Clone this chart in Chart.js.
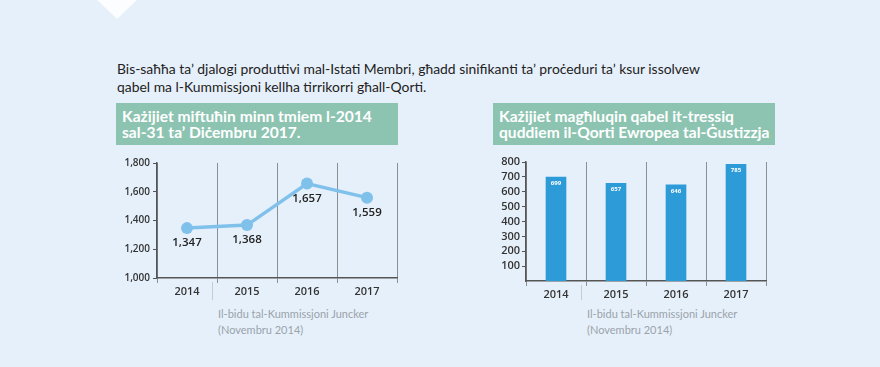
<!DOCTYPE html>
<html>
<head>
<meta charset="utf-8">
<script src="https://cdn.jsdelivr.net/npm/chart.js@4.4.1/dist/chart.umd.min.js"></script>
<style>
  html, body { margin: 0; padding: 0; }
  body { width: 880px; height: 367px; background: #e6f0fa; position: relative; overflow: hidden; font-family: Lato, sans-serif; }
  .chevron { position: absolute; left: 97px; top: 0; width: 0; height: 0;
    border-left: 20px solid transparent; border-right: 20px solid transparent; border-top: 19px solid #fbfdff; }
  .intro { position: absolute; left: 117px; top: 60px; font-size: 13.9px; line-height: 18px; color: #222; }
  .box { position: absolute; top: 103px; height: 42px; background: #8dc4b1; color: #fff; font-weight: bold;
    font-size: 15.6px; line-height: 16px; padding: 5px 0 0 6px; box-sizing: border-box; white-space: nowrap; }
  .note { position: absolute; top: 306px; font-size: 11px; line-height: 16px; color: #9aa3ab; }
  .wrap { position: absolute; top: 150px; height: 150px; }
</style>
</head>
<body>
<div class="chevron"></div>
<div class="intro">Bis-saħħa ta’ djalogi produttivi mal-Istati Membri, għadd sinifikanti ta’ proċeduri ta’ ksur issolvew<br>qabel ma l-Kummissjoni kellha tirrikorri għall-Qorti.</div>

<div class="box" style="left:116px;width:282px;">Każijiet miftuħin minn tmiem l-2014<br>sal-31 ta’ Diċembru 2017.</div>
<div class="box" style="left:493px;width:282px;">Każijiet magħluqin qabel it-tressiq<br>quddiem il-Qorti Ewropea tal-Ġustizzja</div>

<div class="wrap" style="left:110px;width:295px;"><canvas id="openCases" width="295" height="150"></canvas></div>
<div class="wrap" style="left:490px;width:290px;"><canvas id="closedCases" width="290" height="150"></canvas></div>

<div class="note" style="left:218px;">Il-bidu tal-Kummissjoni Juncker<br>(Novembru 2014)</div>
<div class="note" style="left:587px;">Il-bidu tal-Kummissjoni Juncker<br>(Novembru 2014)</div>

<script>
const years = ['2014', '2015', '2016', '2017'];
const openCases = [1347, 1368, 1657, 1559];
const closedCases = [699, 657, 646, 785];
const openTicks = [1000, 1200, 1400, 1600, 1800];
const closedTicks = [100, 200, 300, 400, 500, 600, 700, 800];

const axisColor = '#555';
const gridColor = '#8a8f94';
const tickFont = { family: 'Open Sans', size: 10, weight: '600' };

// light line marking start of the Juncker Commission (Nov 2014), a bit before the 2014/2015 boundary
const junckerLine = {
    id: 'junckerLine',
    afterDraw(chart) {
        const x = chart.scales.x;
        const step = x.getPixelForValue(1) - x.getPixelForValue(0);
        const px = Math.round(x.getPixelForValue(0) + step / 2 - step / 12) + 0.5;
        const ctx = chart.ctx;
        ctx.save();
        ctx.strokeStyle = '#c4ccd4';
        ctx.lineWidth = 1;
        ctx.beginPath();
        ctx.moveTo(px, chart.chartArea.bottom + 4);
        ctx.lineTo(px, chart.height);
        ctx.stroke();
        ctx.restore();
    }
};

const pointLabels = {
    id: 'pointLabels',
    afterDatasetsDraw(chart) {
        const ctx = chart.ctx;
        const meta = chart.getDatasetMeta(0);
        ctx.save();
        ctx.font = '600 11.5px "Open Sans"';
        ctx.fillStyle = '#222';
        ctx.textAlign = 'center';
        ctx.textBaseline = 'middle';
        meta.data.forEach((pt, i) => {
            ctx.fillText(openCases[i].toLocaleString('en-US'), pt.x, pt.y + 15);
        });
        ctx.restore();
    }
};

const barLabels = {
    id: 'barLabels',
    afterDatasetsDraw(chart) {
        const ctx = chart.ctx;
        const meta = chart.getDatasetMeta(0);
        ctx.save();
        ctx.font = 'bold 6px "Open Sans"';
        ctx.fillStyle = '#fff';
        ctx.textAlign = 'center';
        ctx.textBaseline = 'middle';
        meta.data.forEach((bar, i) => {
            ctx.fillText(String(closedCases[i]), bar.x, bar.y + 6);
        });
        ctx.restore();
    }
};

function xScale(height) {
    return {
        offset: true,
        grid: { offset: true, color: gridColor, tickLength: 5, drawOnChartArea: true },
        border: { color: axisColor, width: 1.5 },
        ticks: { color: '#333', font: { family: 'Open Sans', size: 11, weight: '600' }, padding: 2 },
        afterFit(scale) { scale.height = height; }
    };
}

new Chart(document.getElementById('openCases'), {
    type: 'line',
    data: {
        labels: years,
        datasets: [{
            data: openCases,
            borderColor: '#80c1ec',
            backgroundColor: '#80c1ec',
            borderWidth: 3.5,
            pointRadius: 6,
            pointBorderWidth: 0,
            tension: 0
        }]
    },
    options: {
        responsive: false,
        animation: false,
        layout: { padding: { top: 13, right: 8, bottom: 0, left: 0 } },
        plugins: { legend: { display: false }, tooltip: { enabled: false } },
        scales: {
            x: xScale(22),
            y: {
                min: 1000, max: 1800,
                afterBuildTicks(scale) { scale.ticks = openTicks.map(v => ({ value: v })); },
                grid: { drawOnChartArea: false, color: axisColor, tickLength: 4 },
                border: { color: axisColor, width: 1.5 },
                ticks: { color: '#333', font: tickFont, padding: 3,
                    callback: v => v.toLocaleString('en-US') },
                afterFit(scale) { scale.width = 47; }
            }
        }
    },
    plugins: [pointLabels, junckerLine]
});

new Chart(document.getElementById('closedCases'), {
    type: 'bar',
    data: {
        labels: years,
        datasets: [{
            data: closedCases,
            backgroundColor: '#2e9bd9',
            barThickness: 20
        }]
    },
    options: {
        responsive: false,
        animation: false,
        layout: { padding: { top: 12, right: 14, bottom: 0, left: 0 } },
        plugins: { legend: { display: false }, tooltip: { enabled: false } },
        scales: {
            x: xScale(19),
            y: {
                min: 0, max: 800,
                afterBuildTicks(scale) { scale.ticks = closedTicks.map(v => ({ value: v })); },
                grid: { drawOnChartArea: false, color: axisColor, tickLength: 4 },
                border: { color: axisColor, width: 1.5 },
                ticks: { color: '#333', font: { family: 'Open Sans', size: 11, weight: '600' }, padding: 2 },
                afterFit(scale) { scale.width = 36; }
            }
        }
    },
    plugins: [barLabels, junckerLine]
});
</script>
</body>
</html>
